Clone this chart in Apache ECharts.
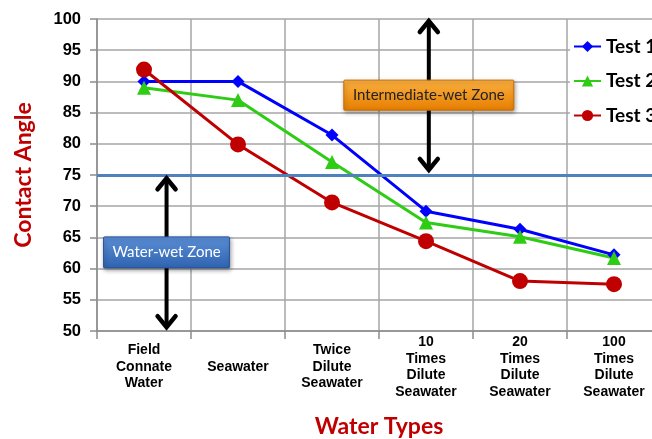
<!DOCTYPE html>
<html>
<head>
<meta charset="utf-8">
<script src="https://cdn.jsdelivr.net/npm/echarts@6/dist/echarts.min.js"></script>
<style>
  html, body { margin: 0; padding: 0; background: #fff; }
  #chart { width: 652px; height: 439px; }
</style>
</head>
<body>
<div id="chart"></div>
<script>
// Water types tested and the contact angle measured for each run
const categories = [
  'Field\nConnate\nWater',
  'Seawater',
  'Twice\nDilute\nSeawater',
  '10\nTimes\nDilute\nSeawater',
  '20\nTimes\nDilute\nSeawater',
  '100\nTimes\nDilute\nSeawater'
];
const test1 = [90, 90, 81.4, 69.2, 66.3, 62.2];
const test2 = [89, 87, 77.1, 67.4, 65.1, 61.7];
const test3 = [91.9, 79.9, 70.6, 64.4, 58.0, 57.5];
const yTicks = { min: 50, max: 100, interval: 5 };
const wettabilityBoundary = 75;

const chart = echarts.init(document.getElementById('chart'), null, { renderer: 'canvas' });

const labelFont = '"Liberation Sans", Arial, sans-serif';
const titleFont = 'Lato, "Open Sans", sans-serif';
const darkRed = '#c00000';

function lineSeries(name, data, color, symbol, size) {
  return {
    name, type: 'line', data,
    symbol, symbolSize: size,
    lineStyle: { color, width: 3 },
    itemStyle: { color },
    emphasis: { disabled: true },
    animation: false
  };
}

const series = [
  lineSeries('Test 1', test1, '#0000ff', 'diamond', 13),
  lineSeries('Test 2', test2, '#2ecc14', 'triangle', 14),
  lineSeries('Test 3', test3, darkRed, 'circle', 16)
];
// boundary between water-wet and intermediate-wet behaviour
series[0].markLine = {
  silent: true, symbol: 'none', animation: false,
  label: { show: false },
  lineStyle: { color: '#4f81bd', width: 3, type: 'solid' },
  data: [{ yAxis: wettabilityBoundary }]
};

chart.setOption({
  backgroundColor: '#ffffff',
  animation: false,
  grid: { left: 97, top: 19, width: 564, height: 312, outerBoundsMode: 'none', containLabel: false },
  legend: {
    orient: 'vertical', left: 570, top: 33,
    itemWidth: 27, itemHeight: 14, itemGap: 15.5,
    backgroundColor: '#ffffff', padding: [4, 6, 8, 3],
    textStyle: { fontFamily: titleFont, fontWeight: 'bold', fontSize: 19, color: '#000' },
    data: ['Test 1', 'Test 2', 'Test 3']
  },
  xAxis: {
    type: 'category', data: categories, boundaryGap: true,
    name: 'Water Types', nameLocation: 'middle', nameGap: 84,
    nameTextStyle: { fontFamily: titleFont, fontWeight: 'bold', fontSize: 23, color: darkRed },
    axisLine: { lineStyle: { color: '#8c8c8c', width: 1.5 } },
    axisTick: { show: true, length: 8, lineStyle: { color: '#8c8c8c', width: 1.5 } },
    splitLine: { show: true, lineStyle: { color: '#a6a6a6', width: 1.5 } },
    axisLabel: {
      interval: 0, margin: 36, verticalAlign: 'middle',
      fontFamily: labelFont, fontWeight: 'bold', fontSize: 14, lineHeight: 16.5, color: '#000'
    }
  },
  yAxis: {
    type: 'value', min: yTicks.min, max: yTicks.max, interval: yTicks.interval,
    name: 'Contact Angle', nameLocation: 'middle', nameGap: 62, nameRotate: 90,
    nameTextStyle: { fontFamily: titleFont, fontWeight: 'bold', fontSize: 23, color: darkRed },
    axisLine: { show: true, lineStyle: { color: '#8c8c8c', width: 1.5 } },
    axisTick: { show: true, length: 7, lineStyle: { color: '#8c8c8c', width: 1.5 } },
    splitLine: { show: true, lineStyle: { color: '#a6a6a6', width: 1.5 } },
    axisLabel: { margin: 16, fontFamily: labelFont, fontWeight: 'bold', fontSize: 16.5, color: '#000' }
  },
  series
});

// Position the zone annotations through the chart's own axes
function px(catPos, value) {
  const i = Math.floor(catPos);
  const a = chart.convertToPixel({ gridIndex: 0 }, [i, value]);
  const b = chart.convertToPixel({ gridIndex: 0 }, [i + 1, value]);
  return [a[0] + (b[0] - a[0]) * (catPos - i), a[1]];
}

function doubleArrow(catPos, topVal, bottomVal) {
  const t = px(catPos, topVal), b = px(catPos, bottomVal);
  const style = { stroke: '#000', lineWidth: 4.5, fill: null, lineCap: 'round', lineJoin: 'miter' };
  return [
    { type: 'line', shape: { x1: t[0], y1: t[1] + 3, x2: b[0], y2: b[1] - 3 }, style: { stroke: '#000', lineWidth: 4 }, z: 50 },
    { type: 'polyline', shape: { points: [[t[0] - 9, t[1] + 13], [t[0], t[1] + 2], [t[0] + 9, t[1] + 13]] }, style, z: 50 },
    { type: 'polyline', shape: { points: [[b[0] - 9, b[1] - 13], [b[0], b[1] - 2], [b[0] + 9, b[1] - 13]] }, style, z: 50 }
  ];
}

function zoneBox(catPos, value, w, h, text, fillTop, fillBottom, stroke, textColor) {
  const c = px(catPos, value);
  return [
    {
      type: 'rect', z: 60,
      shape: { x: c[0] - w / 2, y: c[1] - h / 2, width: w, height: h, r: 1 },
      style: {
        fill: new echarts.graphic.LinearGradient(0, 0, 0, 1, [
          { offset: 0, color: fillTop }, { offset: 1, color: fillBottom }
        ]),
        stroke, lineWidth: 1,
        shadowBlur: 4, shadowOffsetX: 1, shadowOffsetY: 2, shadowColor: 'rgba(0,0,0,0.35)'
      }
    },
    {
      type: 'text', z: 61, x: c[0], y: c[1],
      style: {
        text, fill: textColor, align: 'center', verticalAlign: 'middle',
        font: '15px Lato, "Open Sans", sans-serif'
      }
    }
  ];
}

chart.setOption({
  graphic: {
    elements: [
      ...doubleArrow(3.03, 100, 75.5),
      ...doubleArrow(0.24, 74.8, 50.3),
      ...zoneBox(3.03, 87.8, 170, 30, 'Intermediate-wet Zone', '#fbb040', '#e67e00', '#c86d00', '#222'),
      ...zoneBox(0.24, 62.6, 126, 31, 'Water-wet Zone', '#5b8fd6', '#2f63b0', '#28539a', '#ffffff')
    ]
  }
});
</script>
</body>
</html>
